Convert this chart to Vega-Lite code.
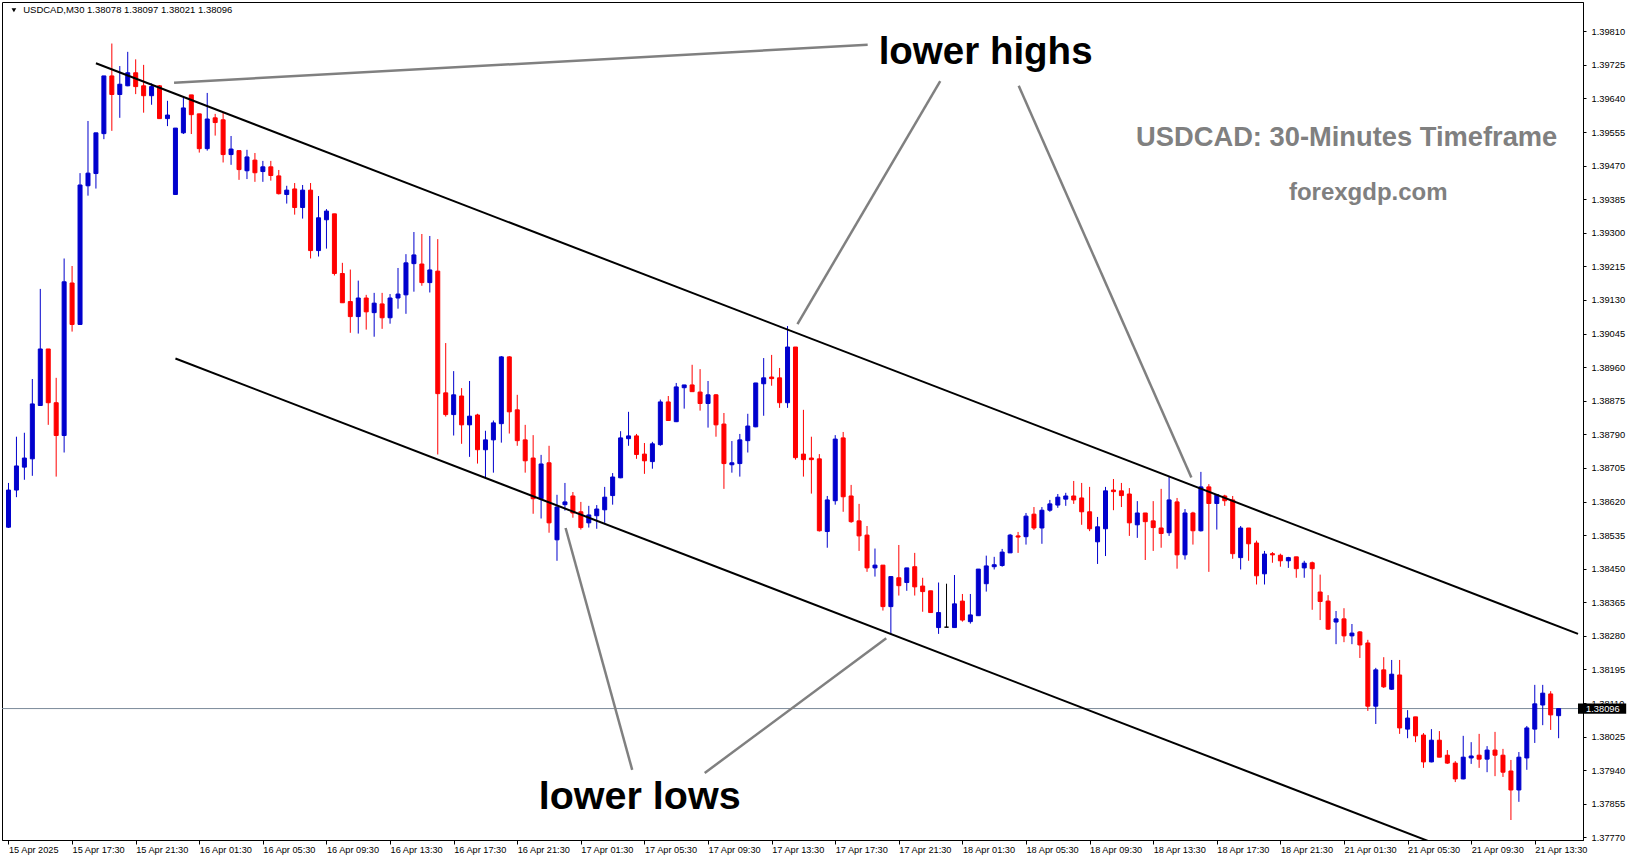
{
"$schema": "https://vega.github.io/schema/vega-lite/v6.json",
"width": 1581, "height": 838,
"autosize": {"type": "none"},
"padding": {"left": 2, "top": 2, "right": 48, "bottom": 21},
"background": "white",
"config": {
 "view": {"stroke": "black", "strokeWidth": 1},
 "font": "Liberation Sans",
 "axis": {"grid": false, "title": null, "domainColor": "black", "tickColor": "black", "labelColor": "black", "labelFont": "Liberation Sans", "labelFontSize": 9, "domainWidth": 1, "tickWidth": 1}
},
"datasets": {
 "candles": [
{"i":0,"o":1.38555,"h":1.38667,"l":1.38553,"c":1.38649,"d":"up"},
{"i":1,"o":1.38649,"h":1.38784,"l":1.38631,"c":1.38710,"d":"up"},
{"i":2,"o":1.38707,"h":1.38794,"l":1.38675,"c":1.38730,"d":"up"},
{"i":3,"o":1.38728,"h":1.38930,"l":1.38685,"c":1.38867,"d":"up"},
{"i":4,"o":1.38863,"h":1.39158,"l":1.38862,"c":1.39006,"d":"up"},
{"i":5,"o":1.39006,"h":1.39006,"l":1.38814,"c":1.38870,"d":"down"},
{"i":6,"o":1.38870,"h":1.38933,"l":1.38683,"c":1.38787,"d":"down"},
{"i":7,"o":1.38787,"h":1.39235,"l":1.38744,"c":1.39176,"d":"up"},
{"i":8,"o":1.39173,"h":1.39216,"l":1.39050,"c":1.39068,"d":"down"},
{"i":9,"o":1.39068,"h":1.39451,"l":1.39067,"c":1.39421,"d":"up"},
{"i":10,"o":1.39419,"h":1.39583,"l":1.39394,"c":1.39451,"d":"up"},
{"i":11,"o":1.39450,"h":1.39553,"l":1.39412,"c":1.39553,"d":"up"},
{"i":12,"o":1.39551,"h":1.39697,"l":1.39537,"c":1.39697,"d":"up"},
{"i":13,"o":1.39697,"h":1.39779,"l":1.39558,"c":1.39650,"d":"down"},
{"i":14,"o":1.39650,"h":1.39722,"l":1.39591,"c":1.39676,"d":"up"},
{"i":15,"o":1.39672,"h":1.39758,"l":1.39671,"c":1.39705,"d":"up"},
{"i":16,"o":1.39705,"h":1.39739,"l":1.39651,"c":1.39670,"d":"down"},
{"i":17,"o":1.39672,"h":1.39725,"l":1.39604,"c":1.39647,"d":"down"},
{"i":18,"o":1.39647,"h":1.39678,"l":1.39624,"c":1.39670,"d":"up"},
{"i":19,"o":1.39672,"h":1.39674,"l":1.39589,"c":1.39589,"d":"down"},
{"i":20,"o":1.39589,"h":1.39634,"l":1.39570,"c":1.39598,"d":"up"},
{"i":21,"o":1.39397,"h":1.39565,"l":1.39396,"c":1.39565,"d":"up"},
{"i":22,"o":1.39553,"h":1.39642,"l":1.39550,"c":1.39616,"d":"up"},
{"i":23,"o":1.39649,"h":1.39649,"l":1.39550,"c":1.39599,"d":"down"},
{"i":24,"o":1.39601,"h":1.39601,"l":1.39503,"c":1.39513,"d":"down"},
{"i":25,"o":1.39513,"h":1.39654,"l":1.39508,"c":1.39588,"d":"up"},
{"i":26,"o":1.39591,"h":1.39601,"l":1.39546,"c":1.39579,"d":"down"},
{"i":27,"o":1.39586,"h":1.39605,"l":1.39478,"c":1.39498,"d":"down"},
{"i":28,"o":1.39498,"h":1.39545,"l":1.39472,"c":1.39512,"d":"up"},
{"i":29,"o":1.39508,"h":1.39508,"l":1.39434,"c":1.39460,"d":"down"},
{"i":30,"o":1.39457,"h":1.39510,"l":1.39436,"c":1.39492,"d":"up"},
{"i":31,"o":1.39484,"h":1.39502,"l":1.39429,"c":1.39452,"d":"down"},
{"i":32,"o":1.39455,"h":1.39482,"l":1.39429,"c":1.39467,"d":"up"},
{"i":33,"o":1.39467,"h":1.39482,"l":1.39432,"c":1.39445,"d":"down"},
{"i":34,"o":1.39444,"h":1.39459,"l":1.39397,"c":1.39399,"d":"down"},
{"i":35,"o":1.39397,"h":1.39419,"l":1.39374,"c":1.39408,"d":"up"},
{"i":36,"o":1.39411,"h":1.39426,"l":1.39346,"c":1.39364,"d":"down"},
{"i":37,"o":1.39364,"h":1.39421,"l":1.39336,"c":1.39408,"d":"up"},
{"i":38,"o":1.39408,"h":1.39426,"l":1.39235,"c":1.39255,"d":"down"},
{"i":39,"o":1.39255,"h":1.39393,"l":1.39240,"c":1.39338,"d":"up"},
{"i":40,"o":1.39333,"h":1.39360,"l":1.39260,"c":1.39355,"d":"up"},
{"i":41,"o":1.39348,"h":1.39348,"l":1.39192,"c":1.39197,"d":"down"},
{"i":42,"o":1.39197,"h":1.39224,"l":1.39123,"c":1.39123,"d":"down"},
{"i":43,"o":1.39126,"h":1.39207,"l":1.39047,"c":1.39088,"d":"down"},
{"i":44,"o":1.39088,"h":1.39179,"l":1.39045,"c":1.39135,"d":"up"},
{"i":45,"o":1.39135,"h":1.39143,"l":1.39055,"c":1.39100,"d":"down"},
{"i":46,"o":1.39098,"h":1.39148,"l":1.39037,"c":1.39122,"d":"up"},
{"i":47,"o":1.39120,"h":1.39148,"l":1.39057,"c":1.39085,"d":"down"},
{"i":48,"o":1.39085,"h":1.39145,"l":1.39070,"c":1.39135,"d":"up"},
{"i":49,"o":1.39135,"h":1.39211,"l":1.39108,"c":1.39145,"d":"up"},
{"i":50,"o":1.39143,"h":1.39246,"l":1.39095,"c":1.39224,"d":"up"},
{"i":51,"o":1.39222,"h":1.39302,"l":1.39151,"c":1.39244,"d":"up"},
{"i":52,"o":1.39221,"h":1.39297,"l":1.39166,"c":1.39174,"d":"down"},
{"i":53,"o":1.39174,"h":1.39292,"l":1.39149,"c":1.39206,"d":"up"},
{"i":54,"o":1.39203,"h":1.39284,"l":1.38739,"c":1.38893,"d":"down"},
{"i":55,"o":1.38895,"h":1.39021,"l":1.38835,"c":1.38840,"d":"down"},
{"i":56,"o":1.38840,"h":1.38950,"l":1.38787,"c":1.38890,"d":"up"},
{"i":57,"o":1.38887,"h":1.38907,"l":1.38766,"c":1.38814,"d":"down"},
{"i":58,"o":1.38814,"h":1.38925,"l":1.38733,"c":1.38836,"d":"up"},
{"i":59,"o":1.38839,"h":1.38842,"l":1.38716,"c":1.38751,"d":"down"},
{"i":60,"o":1.38751,"h":1.38799,"l":1.38680,"c":1.38776,"d":"up"},
{"i":61,"o":1.38776,"h":1.38825,"l":1.38693,"c":1.38819,"d":"up"},
{"i":62,"o":1.38817,"h":1.38988,"l":1.38769,"c":1.38986,"d":"up"},
{"i":63,"o":1.38986,"h":1.38988,"l":1.38792,"c":1.38847,"d":"down"},
{"i":64,"o":1.38852,"h":1.38890,"l":1.38761,"c":1.38774,"d":"down"},
{"i":65,"o":1.38776,"h":1.38814,"l":1.38693,"c":1.38723,"d":"down"},
{"i":66,"o":1.38730,"h":1.38788,"l":1.38589,"c":1.38627,"d":"down"},
{"i":67,"o":1.38627,"h":1.38738,"l":1.38577,"c":1.38715,"d":"up"},
{"i":68,"o":1.38718,"h":1.38761,"l":1.38541,"c":1.38566,"d":"down"},
{"i":69,"o":1.38523,"h":1.38637,"l":1.38470,"c":1.38606,"d":"up"},
{"i":70,"o":1.38612,"h":1.38667,"l":1.38597,"c":1.38619,"d":"up"},
{"i":71,"o":1.38634,"h":1.38644,"l":1.38579,"c":1.38591,"d":"down"},
{"i":72,"o":1.38594,"h":1.38619,"l":1.38549,"c":1.38554,"d":"down"},
{"i":73,"o":1.38566,"h":1.38609,"l":1.38554,"c":1.38586,"d":"up"},
{"i":74,"o":1.38584,"h":1.38611,"l":1.38551,"c":1.38601,"d":"up"},
{"i":75,"o":1.38599,"h":1.38657,"l":1.38566,"c":1.38631,"d":"up"},
{"i":76,"o":1.38635,"h":1.38692,"l":1.38612,"c":1.38682,"d":"up"},
{"i":77,"o":1.38680,"h":1.38798,"l":1.38679,"c":1.38781,"d":"up"},
{"i":78,"o":1.38779,"h":1.38847,"l":1.38761,"c":1.38786,"d":"up"},
{"i":79,"o":1.38786,"h":1.38791,"l":1.38728,"c":1.38739,"d":"down"},
{"i":80,"o":1.38740,"h":1.38768,"l":1.38690,"c":1.38723,"d":"down"},
{"i":81,"o":1.38721,"h":1.38771,"l":1.38703,"c":1.38766,"d":"up"},
{"i":82,"o":1.38764,"h":1.38878,"l":1.38761,"c":1.38872,"d":"up"},
{"i":83,"o":1.38872,"h":1.38887,"l":1.38825,"c":1.38825,"d":"down"},
{"i":84,"o":1.38822,"h":1.38920,"l":1.38821,"c":1.38910,"d":"up"},
{"i":85,"o":1.38908,"h":1.38915,"l":1.38855,"c":1.38915,"d":"up"},
{"i":86,"o":1.38915,"h":1.38966,"l":1.38898,"c":1.38898,"d":"down"},
{"i":87,"o":1.38897,"h":1.38955,"l":1.38850,"c":1.38868,"d":"down"},
{"i":88,"o":1.38868,"h":1.38925,"l":1.38807,"c":1.38890,"d":"up"},
{"i":89,"o":1.38890,"h":1.38892,"l":1.38784,"c":1.38814,"d":"down"},
{"i":90,"o":1.38816,"h":1.38844,"l":1.38652,"c":1.38716,"d":"down"},
{"i":91,"o":1.38713,"h":1.38773,"l":1.38693,"c":1.38718,"d":"up"},
{"i":92,"o":1.38716,"h":1.38791,"l":1.38683,"c":1.38776,"d":"up"},
{"i":93,"o":1.38774,"h":1.38842,"l":1.38744,"c":1.38811,"d":"up"},
{"i":94,"o":1.38809,"h":1.38920,"l":1.38808,"c":1.38920,"d":"up"},
{"i":95,"o":1.38918,"h":1.38983,"l":1.38837,"c":1.38933,"d":"up"},
{"i":96,"o":1.38935,"h":1.38991,"l":1.38913,"c":1.38931,"d":"down"},
{"i":97,"o":1.38933,"h":1.38958,"l":1.38857,"c":1.38870,"d":"down"},
{"i":98,"o":1.38870,"h":1.39064,"l":1.38857,"c":1.39011,"d":"up"},
{"i":99,"o":1.39011,"h":1.39011,"l":1.38726,"c":1.38731,"d":"down"},
{"i":100,"o":1.38740,"h":1.38852,"l":1.38683,"c":1.38726,"d":"down"},
{"i":101,"o":1.38730,"h":1.38784,"l":1.38640,"c":1.38726,"d":"down"},
{"i":102,"o":1.38728,"h":1.38740,"l":1.38544,"c":1.38546,"d":"down"},
{"i":103,"o":1.38544,"h":1.38634,"l":1.38503,"c":1.38624,"d":"up"},
{"i":104,"o":1.38622,"h":1.38788,"l":1.38612,"c":1.38778,"d":"up"},
{"i":105,"o":1.38781,"h":1.38796,"l":1.38594,"c":1.38632,"d":"down"},
{"i":106,"o":1.38634,"h":1.38662,"l":1.38566,"c":1.38569,"d":"down"},
{"i":107,"o":1.38571,"h":1.38614,"l":1.38495,"c":1.38533,"d":"down"},
{"i":108,"o":1.38535,"h":1.38558,"l":1.38442,"c":1.38452,"d":"down"},
{"i":109,"o":1.38452,"h":1.38501,"l":1.38430,"c":1.38459,"d":"up"},
{"i":110,"o":1.38459,"h":1.38459,"l":1.38344,"c":1.38354,"d":"down"},
{"i":111,"o":1.38354,"h":1.38430,"l":1.38284,"c":1.38430,"d":"up"},
{"i":112,"o":1.38427,"h":1.38510,"l":1.38382,"c":1.38407,"d":"down"},
{"i":113,"o":1.38415,"h":1.38452,"l":1.38394,"c":1.38452,"d":"up"},
{"i":114,"o":1.38455,"h":1.38490,"l":1.38382,"c":1.38404,"d":"down"},
{"i":115,"o":1.38406,"h":1.38427,"l":1.38341,"c":1.38392,"d":"down"},
{"i":116,"o":1.38394,"h":1.38394,"l":1.38339,"c":1.38339,"d":"down"},
{"i":117,"o":1.38301,"h":1.38415,"l":1.38285,"c":1.38339,"d":"up"},
{"i":118,"o":1.38302,"h":1.38412,"l":1.38302,"c":1.38302,"d":"flat"},
{"i":119,"o":1.38301,"h":1.38434,"l":1.38301,"c":1.38361,"d":"up"},
{"i":120,"o":1.38368,"h":1.38386,"l":1.38316,"c":1.38320,"d":"down"},
{"i":121,"o":1.38316,"h":1.38386,"l":1.38311,"c":1.38333,"d":"up"},
{"i":122,"o":1.38331,"h":1.38449,"l":1.38331,"c":1.38449,"d":"up"},
{"i":123,"o":1.38412,"h":1.38483,"l":1.38392,"c":1.38457,"d":"up"},
{"i":124,"o":1.38455,"h":1.38480,"l":1.38448,"c":1.38460,"d":"up"},
{"i":125,"o":1.38458,"h":1.38500,"l":1.38455,"c":1.38492,"d":"up"},
{"i":126,"o":1.38490,"h":1.38538,"l":1.38490,"c":1.38535,"d":"up"},
{"i":127,"o":1.38533,"h":1.38543,"l":1.38490,"c":1.38530,"d":"down"},
{"i":128,"o":1.38531,"h":1.38591,"l":1.38511,"c":1.38583,"d":"up"},
{"i":129,"o":1.38588,"h":1.38606,"l":1.38548,"c":1.38553,"d":"down"},
{"i":130,"o":1.38553,"h":1.38606,"l":1.38513,"c":1.38598,"d":"up"},
{"i":131,"o":1.38598,"h":1.38624,"l":1.38594,"c":1.38614,"d":"up"},
{"i":132,"o":1.38611,"h":1.38639,"l":1.38604,"c":1.38631,"d":"up"},
{"i":133,"o":1.38626,"h":1.38642,"l":1.38609,"c":1.38634,"d":"up"},
{"i":134,"o":1.38634,"h":1.38672,"l":1.38614,"c":1.38624,"d":"down"},
{"i":135,"o":1.38629,"h":1.38667,"l":1.38561,"c":1.38594,"d":"down"},
{"i":136,"o":1.38594,"h":1.38657,"l":1.38545,"c":1.38551,"d":"down"},
{"i":137,"o":1.38518,"h":1.38581,"l":1.38462,"c":1.38556,"d":"up"},
{"i":138,"o":1.38551,"h":1.38657,"l":1.38482,"c":1.38647,"d":"up"},
{"i":139,"o":1.38649,"h":1.38677,"l":1.38598,"c":1.38645,"d":"down"},
{"i":140,"o":1.38647,"h":1.38667,"l":1.38606,"c":1.38635,"d":"down"},
{"i":141,"o":1.38639,"h":1.38654,"l":1.38533,"c":1.38566,"d":"down"},
{"i":142,"o":1.38561,"h":1.38621,"l":1.38528,"c":1.38591,"d":"up"},
{"i":143,"o":1.38591,"h":1.38591,"l":1.38472,"c":1.38569,"d":"down"},
{"i":144,"o":1.38571,"h":1.38621,"l":1.38495,"c":1.38554,"d":"down"},
{"i":145,"o":1.38553,"h":1.38652,"l":1.38503,"c":1.38539,"d":"down"},
{"i":146,"o":1.38541,"h":1.38682,"l":1.38533,"c":1.38624,"d":"up"},
{"i":147,"o":1.38619,"h":1.38629,"l":1.38450,"c":1.38485,"d":"down"},
{"i":148,"o":1.38485,"h":1.38601,"l":1.38473,"c":1.38591,"d":"up"},
{"i":149,"o":1.38591,"h":1.38594,"l":1.38511,"c":1.38546,"d":"down"},
{"i":150,"o":1.38546,"h":1.38695,"l":1.38544,"c":1.38657,"d":"up"},
{"i":151,"o":1.38657,"h":1.38664,"l":1.38442,"c":1.38615,"d":"down"},
{"i":152,"o":1.38615,"h":1.38637,"l":1.38549,"c":1.38637,"d":"up"},
{"i":153,"o":1.38634,"h":1.38637,"l":1.38609,"c":1.38622,"d":"down"},
{"i":154,"o":1.38624,"h":1.38634,"l":1.38475,"c":1.38488,"d":"down"},
{"i":155,"o":1.38478,"h":1.38558,"l":1.38448,"c":1.38553,"d":"up"},
{"i":156,"o":1.38553,"h":1.38553,"l":1.38470,"c":1.38513,"d":"down"},
{"i":157,"o":1.38515,"h":1.38521,"l":1.38410,"c":1.38432,"d":"down"},
{"i":158,"o":1.38437,"h":1.38495,"l":1.38410,"c":1.38487,"d":"up"},
{"i":159,"o":1.38488,"h":1.38492,"l":1.38465,"c":1.38485,"d":"down"},
{"i":160,"o":1.38484,"h":1.38488,"l":1.38455,"c":1.38470,"d":"down"},
{"i":161,"o":1.38470,"h":1.38480,"l":1.38452,"c":1.38478,"d":"up"},
{"i":162,"o":1.38480,"h":1.38480,"l":1.38427,"c":1.38450,"d":"down"},
{"i":163,"o":1.38452,"h":1.38470,"l":1.38427,"c":1.38464,"d":"up"},
{"i":164,"o":1.38465,"h":1.38468,"l":1.38346,"c":1.38450,"d":"down"},
{"i":165,"o":1.38391,"h":1.38435,"l":1.38320,"c":1.38367,"d":"down"},
{"i":166,"o":1.38368,"h":1.38383,"l":1.38295,"c":1.38297,"d":"down"},
{"i":167,"o":1.38315,"h":1.38343,"l":1.38259,"c":1.38323,"d":"up"},
{"i":168,"o":1.38323,"h":1.38350,"l":1.38264,"c":1.38280,"d":"down"},
{"i":169,"o":1.38280,"h":1.38310,"l":1.38259,"c":1.38287,"d":"up"},
{"i":170,"o":1.38290,"h":1.38292,"l":1.38224,"c":1.38257,"d":"down"},
{"i":171,"o":1.38262,"h":1.38270,"l":1.38090,"c":1.38102,"d":"down"},
{"i":172,"o":1.38102,"h":1.38199,"l":1.38057,"c":1.38194,"d":"up"},
{"i":173,"o":1.38194,"h":1.38226,"l":1.38148,"c":1.38151,"d":"down"},
{"i":174,"o":1.38145,"h":1.38219,"l":1.38143,"c":1.38183,"d":"up"},
{"i":175,"o":1.38181,"h":1.38219,"l":1.38032,"c":1.38047,"d":"down"},
{"i":176,"o":1.38044,"h":1.38092,"l":1.38021,"c":1.38072,"d":"up"},
{"i":177,"o":1.38075,"h":1.38075,"l":1.38011,"c":1.38027,"d":"down"},
{"i":178,"o":1.38029,"h":1.38034,"l":1.37946,"c":1.37961,"d":"down"},
{"i":179,"o":1.37961,"h":1.38044,"l":1.37960,"c":1.38016,"d":"up"},
{"i":180,"o":1.38016,"h":1.38039,"l":1.37973,"c":1.37973,"d":"down"},
{"i":181,"o":1.37978,"h":1.37991,"l":1.37956,"c":1.37958,"d":"down"},
{"i":182,"o":1.37958,"h":1.37963,"l":1.37910,"c":1.37918,"d":"down"},
{"i":183,"o":1.37918,"h":1.38027,"l":1.37917,"c":1.37973,"d":"up"},
{"i":184,"o":1.37971,"h":1.38011,"l":1.37956,"c":1.37976,"d":"up"},
{"i":185,"o":1.37978,"h":1.38032,"l":1.37946,"c":1.37968,"d":"down"},
{"i":186,"o":1.37968,"h":1.38001,"l":1.37935,"c":1.37991,"d":"up"},
{"i":187,"o":1.37991,"h":1.38037,"l":1.37925,"c":1.37978,"d":"down"},
{"i":188,"o":1.37978,"h":1.37994,"l":1.37923,"c":1.37935,"d":"down"},
{"i":189,"o":1.37938,"h":1.37966,"l":1.37814,"c":1.37890,"d":"down"},
{"i":190,"o":1.37890,"h":1.37986,"l":1.37860,"c":1.37973,"d":"up"},
{"i":191,"o":1.37971,"h":1.38052,"l":1.37941,"c":1.38047,"d":"up"},
{"i":192,"o":1.38044,"h":1.38156,"l":1.38009,"c":1.38108,"d":"up"},
{"i":193,"o":1.38105,"h":1.38156,"l":1.38054,"c":1.38135,"d":"up"},
{"i":194,"o":1.38133,"h":1.38140,"l":1.38042,"c":1.38080,"d":"down"},
{"i":195,"o":1.38078,"h":1.38097,"l":1.38021,"c":1.38096,"d":"up"}
 ],
 "trend": [
  {"g":"upper","i":11.0,"p":1.39729},{"g":"upper","i":197.44,"p":1.38285},
  {"g":"lower","i":21.0,"p":1.38982},{"g":"lower","i":178.96,"p":1.37758}
 ],
 "pointers": [
  {"g":"a","i":20.83,"p":1.39680},{"g":"a","i":108.08,"p":1.39776},
  {"g":"b","i":99.25,"p":1.39069},{"g":"b","i":117.21,"p":1.39684},
  {"g":"c","i":127.08,"p":1.39672},{"g":"c","i":148.8,"p":1.38681},
  {"g":"d","i":70.08,"p":1.38553},{"g":"d","i":78.46,"p":1.37941},
  {"g":"e","i":87.58,"p":1.37933},{"g":"e","i":110.42,"p":1.38274}
 ]
},
"layer": [
 {
  "data": {"values": [{"p": 1.38096}]},
  "mark": {"type": "rule", "color": "#7b8a99", "strokeWidth": 1},
  "encoding": {
   "y": {"field": "p", "type": "quantitative", "title": null,
     "scale": {"domain": [1.377634, 1.398841], "nice": false, "zero": false},
     "axis": {"orient": "right", "tickCount": 40, "values": [1.3777,1.37855,1.3794,1.38025,1.3811,1.38195,1.3828,1.38365,1.3845,1.38535,1.3862,1.38705,1.3879,1.38875,1.3896,1.39045,1.3913,1.39215,1.393,1.39385,1.3947,1.39555,1.3964,1.39725,1.3981], "format": ".5f", "tickSize": 3, "labelPadding": 5, "labelBaseline": "middle", "labelOverlap": false, "labelFlush": false, "labelBound": false, "labelFontSize": 9.3}}
  }
 },
 {
  "data": {"name": "candles"},
  "mark": {"type": "rule", "strokeWidth": 1},
  "encoding": {
   "x": {"field": "i", "type": "quantitative", "title": null,
     "scale": {"domain": [-0.1875, 197.4375], "nice": false, "zero": false},
     "axis": {"tickCount": 40, "values": [0,8,16,24,32,40,48,56,64,72,80,88,96,104,112,120,128,136,144,152,160,168,176,184,192],
       "labelExpr": "['15 Apr 2025','15 Apr 17:30','15 Apr 21:30','16 Apr 01:30','16 Apr 05:30','16 Apr 09:30','16 Apr 13:30','16 Apr 17:30','16 Apr 21:30','17 Apr 01:30','17 Apr 05:30','17 Apr 09:30','17 Apr 13:30','17 Apr 17:30','17 Apr 21:30','18 Apr 01:30','18 Apr 05:30','18 Apr 09:30','18 Apr 13:30','18 Apr 17:30','18 Apr 21:30','21 Apr 01:30','21 Apr 05:30','21 Apr 09:30','21 Apr 13:30'][round(datum.value/8)]",
       "labelAlign": "left", "labelBaseline": "top", "labelPadding": 1, "tickSize": 4, "labelFlush": false, "labelOverlap": false, "labelBound": false, "labelFontSize": 9.2}},
   "y": {"field": "l", "type": "quantitative", "title": null},
   "y2": {"field": "h"},
   "color": {"field": "d", "type": "nominal", "legend": null,
     "scale": {"domain": ["up", "down", "flat"], "range": ["#0000CD", "#FF0000", "#000000"]}}
  }
 },
 {
  "data": {"name": "candles"},
  "mark": {"type": "bar", "size": 4, "strokeWidth": 1},
  "encoding": {
   "x": {"field": "i", "type": "quantitative", "title": null},
   "y": {"field": "o", "type": "quantitative", "title": null},
   "y2": {"field": "c"},
   "color": {"field": "d", "type": "nominal", "legend": null,
     "scale": {"domain": ["up", "down", "flat"], "range": ["#0000CD", "#FF0000", "#000000"]}},
   "stroke": {"field": "d", "type": "nominal", "legend": null,
     "scale": {"domain": ["up", "down", "flat"], "range": ["#0000CD", "#FF0000", "#000000"]}}
  }
 },
 {
  "data": {"name": "trend"},
  "mark": {"type": "line", "color": "#000000", "strokeWidth": 2, "clip": true},
  "encoding": {
   "x": {"field": "i", "type": "quantitative", "title": null},
   "y": {"field": "p", "type": "quantitative", "title": null},
   "detail": {"field": "g"}
  }
 },
 {
  "data": {"name": "pointers"},
  "mark": {"type": "line", "color": "#808080", "strokeWidth": 2.5, "clip": true},
  "encoding": {
   "x": {"field": "i", "type": "quantitative", "title": null},
   "y": {"field": "p", "type": "quantitative", "title": null},
   "detail": {"field": "g"}
  }
 },
 {
  "data": {"values": [{"i": 0.68, "p": 1.39863}]},
  "mark": {"type": "point", "shape": "triangle-down", "filled": true, "color": "#000000", "size": 22, "opacity": 1},
  "encoding": {
   "x": {"field": "i", "type": "quantitative", "title": null},
   "y": {"field": "p", "type": "quantitative", "title": null}
  }
 },
 {
  "data": {"values": [{"t": "USDCAD,M30  1.38078 1.38097 1.38021 1.38096", "i": 1.85, "p": 1.39863}]},
  "mark": {"type": "text", "align": "left", "baseline": "middle", "font": "Liberation Sans", "fontSize": 9.5, "color": "#000000"},
  "encoding": {
   "x": {"field": "i", "type": "quantitative", "title": null},
   "y": {"field": "p", "type": "quantitative", "title": null},
   "text": {"field": "t"}
  }
 },
 {
  "data": {"values": [{"t": "lower highs", "i": 109.46, "p": 1.39726}]},
  "mark": {"type": "text", "align": "left", "baseline": "alphabetic", "font": "Liberation Sans", "fontWeight": "bold", "fontSize": 38.5, "color": "#000000"},
  "encoding": {
   "x": {"field": "i", "type": "quantitative", "title": null},
   "y": {"field": "p", "type": "quantitative", "title": null},
   "text": {"field": "t"}
  }
 },
 {
  "data": {"values": [{"t": "lower lows", "i": 66.7, "p": 1.37842}]},
  "mark": {"type": "text", "align": "left", "baseline": "alphabetic", "font": "Liberation Sans", "fontWeight": "bold", "fontSize": 39.5, "color": "#000000"},
  "encoding": {
   "x": {"field": "i", "type": "quantitative", "title": null},
   "y": {"field": "p", "type": "quantitative", "title": null},
   "text": {"field": "t"}
  }
 },
 {
  "data": {"values": [{"t": "USDCAD: 30-Minutes Timeframe", "i": 194.83, "p": 1.39540}]},
  "mark": {"type": "text", "align": "right", "baseline": "middle", "font": "Liberation Sans", "fontWeight": "bold", "fontSize": 27.3, "color": "#808080"},
  "encoding": {
   "x": {"field": "i", "type": "quantitative", "title": null},
   "y": {"field": "p", "type": "quantitative", "title": null},
   "text": {"field": "t"}
  }
 },
 {
  "data": {"values": [{"t": "forexgdp.com", "i": 171.05, "p": 1.39400}]},
  "mark": {"type": "text", "align": "center", "baseline": "middle", "font": "Liberation Sans", "fontWeight": "bold", "fontSize": 24, "color": "#808080"},
  "encoding": {
   "x": {"field": "i", "type": "quantitative", "title": null},
   "y": {"field": "p", "type": "quantitative", "title": null},
   "text": {"field": "t"}
  }
 },
 {
  "data": {"values": [{"a": 197.4375, "b": 203.5, "p1": 1.38083, "p2": 1.38109}]},
  "mark": {"type": "rect", "color": "#000000"},
  "encoding": {
   "x": {"field": "a", "type": "quantitative", "title": null},
   "x2": {"field": "b"},
   "y": {"field": "p1", "type": "quantitative", "title": null},
   "y2": {"field": "p2"}
  }
 },
 {
  "data": {"values": [{"t": "1.38096", "i": 198.45, "p": 1.38096}]},
  "mark": {"type": "text", "align": "left", "baseline": "middle", "font": "Liberation Sans", "fontSize": 9.3, "color": "#FFFFFF"},
  "encoding": {
   "x": {"field": "i", "type": "quantitative", "title": null},
   "y": {"field": "p", "type": "quantitative", "title": null},
   "text": {"field": "t"}
  }
 }
]
}
